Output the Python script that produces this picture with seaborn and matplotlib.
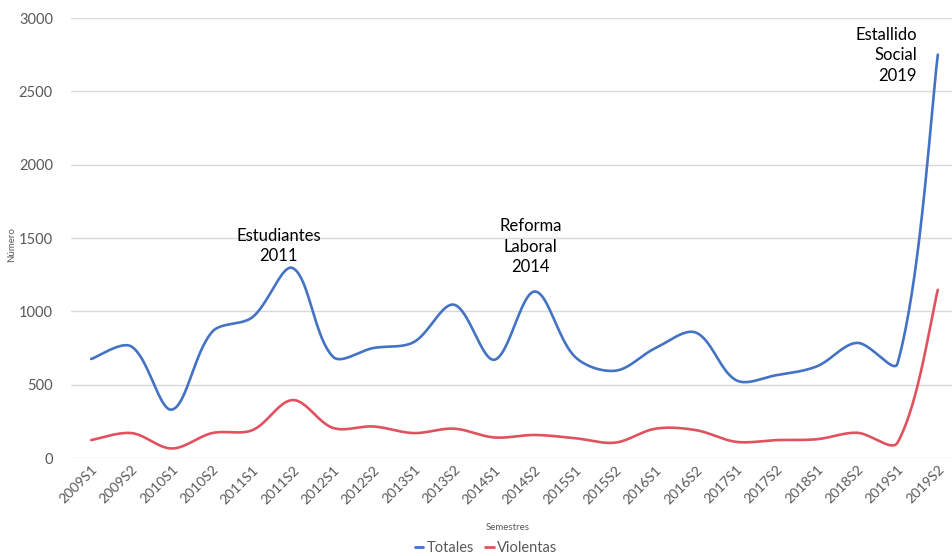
import numpy as np
import pandas as pd
import matplotlib
matplotlib.use("Agg")
import matplotlib.pyplot as plt
import seaborn as sns
from matplotlib.lines import Line2D

semestres = ["2009S1", "2009S2", "2010S1", "2010S2", "2011S1", "2011S2", "2012S1", "2012S2",
             "2013S1", "2013S2", "2014S1", "2014S2", "2015S1", "2015S2", "2016S1", "2016S2",
             "2017S1", "2017S2", "2018S1", "2018S2", "2019S1", "2019S2"]
totales = [675, 760, 330, 860, 960, 1295, 690, 750, 790, 1045, 670, 1135,
           690, 595, 750, 855, 530, 565, 625, 785, 645, 2750]
violentas = [122, 170, 65, 170, 190, 395, 205, 215, 170, 200, 140, 157,
             135, 105, 200, 190, 110, 122, 128, 172, 105, 1147]
y_ticks = [0, 500, 1000, 1500, 2000, 2500, 3000]
anotaciones = [("Estudiantes\n2011", 4.65, 1570, "center"),
               ("Reforma\nLaboral\n2014", 10.9, 1635, "center"),
               ("Estallido\nSocial\n2019", 20.48, 2940, "right")]

BLUE = "#4472C4"
RED = "#E0525F"
SX, SY = 40.33, 440 / 3000  # pixel scale used for the display smoothing


def smooth(y, n=40, t=1 / 3):
    """Excel-style smoothed line (Bezier with length-weighted tangents), display only."""
    y = np.asarray(y, float)
    x = np.arange(len(y), dtype=float)
    P = np.column_stack([x * SX, y * SY])
    m = len(P)
    d = np.linalg.norm(np.diff(P, axis=0), axis=1)
    out = []
    for i in range(m - 1):
        p0 = P[i - 1] if i > 0 else P[i]
        p1, p2 = P[i], P[i + 1]
        p3 = P[i + 2] if i + 2 < m else P[i + 1]
        d01 = d[i - 1] if i > 0 else d[i]
        d12 = d[i]
        d23 = d[i + 1] if i + 1 < m - 1 else d[i]
        c1 = p1 + (p2 - p0) * t * d12 / (d01 + d12)
        c2 = p2 - (p3 - p1) * t * d12 / (d12 + d23)
        s = np.linspace(0, 1, n, endpoint=(i == m - 2))[:, None]
        seg = ((1 - s) ** 3) * p1 + 3 * ((1 - s) ** 2) * s * c1 + 3 * (1 - s) * s ** 2 * c2 + s ** 3 * p2
        out.append(seg)
    c = np.vstack(out)
    return c[:, 0] / SX, c[:, 1] / SY


sns.set_theme(style="white")
plt.rcParams['font.family'] = ['Lato', 'DejaVu Sans']

frames = []
for name, vals in [("Totales", totales), ("Violentas", violentas)]:
    cx, cy = smooth(vals)
    frames.append(pd.DataFrame({"x": cx, "y": cy, "serie": name}))
df = pd.concat(frames, ignore_index=True)

fig = plt.figure(figsize=(9.52, 5.56), dpi=100)
ax = fig.add_axes([71 / 952, 1 - 458 / 556, (958 - 71) / 952, (458 - 18) / 556])

sns.lineplot(data=df, x="x", y="y", hue="serie", palette={"Totales": BLUE, "Violentas": RED},
             sort=False, estimator=None, linewidth=1.9, ax=ax, legend=False)

ax.set_xlim(-0.5, len(semestres) - 0.5)
ax.set_ylim(0, 3000)
ax.set_yticks(y_ticks)
ax.set_yticklabels([str(v) for v in y_ticks], color="#595959", fontsize=10.5)
ax.set_xticks(range(len(semestres)))
ax.set_xticklabels(semestres, rotation=45, ha="right", rotation_mode="anchor",
                   color="#595959", fontsize=10)
ax.tick_params(axis="both", length=0)
ax.tick_params(axis="x", pad=4)
ax.tick_params(axis="y", pad=13)
ax.grid(axis="y", color="#D9D9D9", linewidth=1)
ax.set_axisbelow(True)
for s in ax.spines.values():
    s.set_visible(False)

ax.set_xlabel("Semestres", fontsize=7, color="#595959")
ax.set_ylabel("Número", fontsize=7, color="#595959")
ax.xaxis.set_label_coords((508 - 71) / 887, (458 - 523) / 440)
ax.yaxis.set_label_coords((16 - 71) / 887, (458 - 245) / 440)

for txt, xx, yy, ha in anotaciones:
    ax.text(xx, yy, txt, ha=ha, va="top", fontsize=12, color="black", linespacing=1.35)

handles = [Line2D([], [], color=BLUE, lw=2), Line2D([], [], color=RED, lw=2)]
fig.legend(handles, ["Totales", "Violentas"], loc="center", bbox_to_anchor=(486 / 952, 1 - 548 / 556),
           ncol=2, frameon=False, fontsize=10.5, handlelength=0.6, handletextpad=0.2,
           columnspacing=0.8, labelcolor="#595959")

fig.savefig("out.png", dpi=100)
